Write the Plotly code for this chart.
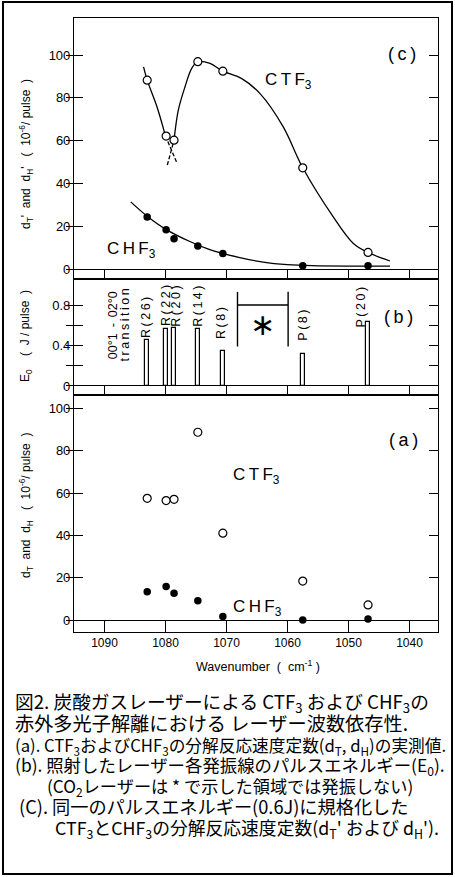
import plotly.graph_objects as go

# ---------------- data ----------------
laser_lines = ["R(26)", "R(22)", "R(20)", "R(14)", "R(8)", "P(8)", "P(20)"]
wavenumber = [1083.0, 1079.9, 1078.6, 1074.7, 1070.6, 1057.5, 1046.8]

# (a) measured decomposition rate constants (10^-6 / pulse)
dT = [57.5, 56.4, 57.0, 88.7, 41.0, 18.4, 7.1]
dH = [13.4, 15.8, 12.6, 9.1, 1.6, 0.0, 0.5]

# (b) pulse energy E0 (J / pulse)
E0 = [0.45, 0.56, 0.577, 0.564, 0.347, 0.314, 0.637]

# (c) normalized rate constants (10^-6 / pulse)
dT_norm = [88.3, 62.2, 60.3, 96.9, 92.5, 47.4, 7.9]
dH_norm = [24.4, 18.5, 14.3, 10.9, 7.4, 1.7, 1.7]

# hand-drawn guide curves in (c)
ctf3_left_x = [1083.6, 1083.0, 1081.4, 1080.0]
ctf3_left_y = [94.5, 88.3, 75.9, 62.2]
ctf3_left_dash_x = [1080.0, 1078.1]
ctf3_left_dash_y = [62.2, 49.5]
ctf3_right_dash_x = [1079.7, 1078.6]
ctf3_right_dash_y = [48.7, 60.3]
ctf3_right_x = [1078.6, 1077.9, 1076.8, 1075.7, 1074.7, 1072.7, 1070.6, 1067.5,
                1064.5, 1060.7, 1057.5, 1052.5, 1049.2, 1046.8, 1043.2]
ctf3_right_y = [60.3, 74.3, 85.2, 93.8, 96.9, 96.1, 92.5, 89.0,
                82.0, 66.5, 47.4, 24.5, 12.1, 7.9, 3.9]
chf3_fit_x = [1085.7, 1083.0, 1080.0, 1076.0, 1072.5, 1068.0, 1064.0, 1060.0,
              1056.0, 1050.0, 1043.2]
chf3_fit_y = [31.5, 24.8, 18.8, 13.0, 9.0, 5.6, 3.4, 2.2, 1.7, 1.5, 1.5]

# region where the CO2 laser does not lase (marked with *)
no_lasing_region = [1068.2, 1059.9]

x_ticks = [1090, 1080, 1070, 1060, 1050, 1040]
y_ticks_rate = [0, 20, 40, 60, 80, 100]
y_ticks_E = [0, 0.2, 0.4, 0.6, 0.8]
y_ticktext_E = ["0", "", "0.4", "", "0.8"]

caption = [
    "図2. 炭酸ガスレーザーによる CTF<sub>3</sub> および CHF<sub>3</sub>の",
    "赤外多光子解離における レーザー波数依存性.",
    "(a). CTF<sub>3</sub>およびCHF<sub>3</sub>の分解反応速度定数(d<sub>T</sub>, d<sub>H</sub>)の実測値.",
    "(b). 照射したレーザー各発振線のパルスエネルギー(E<sub>0</sub>).",
    "(CO<sub>2</sub>レーザーは * で示した領域では発振しない)",
    "(C). 同一のパルスエネルギー(0.6J)に規格化した",
    "CTF<sub>3</sub>とCHF<sub>3</sub>の分解反応速度定数(d<sub>T</sub>' および d<sub>H</sub>').",
]

# ---------------- layout geometry ----------------
W, H = 455, 877
ML, MR, MT, MB = 74, 17, 18, 245
PW = W - ML - MR
PH = H - MT - MB


def px(xp):
    return (xp - ML) / PW


def py(yp):
    return (H - MB - yp) / PH


def spaced(s):
    return "\u2009".join(s)


FONT = "Liberation Sans, Arial, Helvetica, sans-serif"
JFONT = "Noto Sans CJK JP, sans-serif"
XR = [1095.0, 1035.33]
RANGE_C = [-4.5, 117.3]
RANGE_B = [-0.089, 1.057]
RANGE_A = [-5.67, 106.3]
DOM_A = [0, py(395)]
DOM_B = [py(395), py(279)]
DOM_C = [py(279), 1]
LW = 1.1

fig = go.Figure()

# ---- panel (c) ----
curve_style = dict(color="black", width=1.3)
fig.add_trace(go.Scatter(x=ctf3_left_x, y=ctf3_left_y, mode="lines",
                         line=dict(shape="spline", **curve_style),
                         xaxis="x3", yaxis="y3", showlegend=False))
fig.add_trace(go.Scatter(x=ctf3_left_dash_x, y=ctf3_left_dash_y, mode="lines",
                         line=dict(dash="4px,2px", **curve_style),
                         xaxis="x3", yaxis="y3", showlegend=False))
fig.add_trace(go.Scatter(x=ctf3_right_dash_x, y=ctf3_right_dash_y, mode="lines",
                         line=dict(dash="4px,2px", **curve_style),
                         xaxis="x3", yaxis="y3", showlegend=False))
fig.add_trace(go.Scatter(x=ctf3_right_x, y=ctf3_right_y, mode="lines",
                         line=dict(shape="spline", **curve_style),
                         xaxis="x3", yaxis="y3", showlegend=False))
fig.add_trace(go.Scatter(x=chf3_fit_x, y=chf3_fit_y, mode="lines",
                         line=dict(shape="spline", **curve_style),
                         xaxis="x3", yaxis="y3", showlegend=False))
open_marker = dict(symbol="circle", size=8, color="white",
                   line=dict(color="black", width=1.2))
filled_marker = dict(symbol="circle", size=7.5, color="black",
                     line=dict(color="black", width=0))
fig.add_trace(go.Scatter(x=wavenumber, y=dT_norm, mode="markers", marker=open_marker,
                         xaxis="x3", yaxis="y3", showlegend=False))
fig.add_trace(go.Scatter(x=wavenumber, y=dH_norm, mode="markers", marker=filled_marker,
                         xaxis="x3", yaxis="y3", showlegend=False))

# ---- panel (b) ----
fig.add_trace(go.Bar(x=wavenumber, y=E0, width=0.6, base=0,
                     marker=dict(color="white", line=dict(color="black", width=1.2)),
                     xaxis="x2", yaxis="y2", showlegend=False))

# ---- panel (a) ----
fig.add_trace(go.Scatter(x=wavenumber, y=dT, mode="markers", marker=open_marker,
                         xaxis="x", yaxis="y", showlegend=False))
fig.add_trace(go.Scatter(x=wavenumber, y=dH, mode="markers", marker=filled_marker,
                         xaxis="x", yaxis="y", showlegend=False))

# empty traces to bind overlay axes (outer half of the left ticks)
for ya, xa in [("y4", "x"), ("y5", "x2"), ("y6", "x3")]:
    fig.add_trace(go.Scatter(x=[], y=[], xaxis=xa, yaxis=ya, showlegend=False))

tickfont = dict(family=FONT, size=13, color="black")


def xaxis(anchor, ticklen, labels):
    return dict(anchor=anchor, range=XR, domain=[0, 1], tickvals=x_ticks,
                ticks="inside", ticklen=ticklen, tickwidth=1.3, tickcolor="black",
                showticklabels=labels, tickfont=dict(family=FONT, size=12, color="black"),
                showline=True, linecolor="black", linewidth=LW, mirror=True,
                showgrid=False, zeroline=False)


def yaxis(anchor, dom, rng, vals, text=None):
    d = dict(anchor=anchor, domain=dom, range=rng, tickvals=vals,
             ticks="inside", ticklen=9, tickwidth=1.3, tickcolor="black",
             tickfont=tickfont, showline=True, linecolor="black", linewidth=LW,
             mirror="ticks", showgrid=False, zeroline=True, zerolinecolor="black",
             zerolinewidth=1.3)
    if text is not None:
        d["ticktext"] = text
    return d


def yover(anchor, over, rng, vals):
    return dict(anchor=anchor, overlaying=over, side="left", range=rng, tickvals=vals,
                ticks="outside", ticklen=7, tickwidth=1.3, tickcolor="black",
                showticklabels=False, showline=False, showgrid=False, zeroline=False)


fig.update_layout(
    width=W, height=H,
    margin=dict(l=ML, r=MR, t=MT, b=MB, pad=0),
    paper_bgcolor="white", plot_bgcolor="white",
    showlegend=False, bargap=0,
    xaxis=xaxis("y", 12, True),
    xaxis2=xaxis("y2", 9, False),
    xaxis3=xaxis("y3", 10, False),
    yaxis=yaxis("x", DOM_A, RANGE_A, y_ticks_rate),
    yaxis2=yaxis("x2", DOM_B, RANGE_B, y_ticks_E, y_ticktext_E),
    yaxis3=yaxis("x3", DOM_C, RANGE_C, y_ticks_rate),
    yaxis4=yover("x", "y", RANGE_A, y_ticks_rate),
    yaxis5=yover("x2", "y2", RANGE_B, y_ticks_E),
    yaxis6=yover("x3", "y3", RANGE_C, y_ticks_rate),
)

ann = []


def text(xp, yp, t, size=13, angle=0, family=FONT, xanchor="center", yanchor="middle"):
    ann.append(dict(x=px(xp), y=py(yp), xref="paper", yref="paper", text=t,
                    showarrow=False, textangle=angle, xanchor=xanchor, yanchor=yanchor,
                    font=dict(family=family, size=size, color="black")))


# panel tags
text(402, 54, "(\u2009c\u2009)", 18)
text(398, 317, "(\u2009b\u2009)", 18)
text(403, 440, "(\u2009a\u2009)", 18)

# species labels
text(288, 81, "C\u2009T\u2009F<sub>3</sub>", 17)
text(131, 250, "C\u2009H\u2009F<sub>3</sub>", 17)
text(256, 476, "C\u2009T\u2009F<sub>3</sub>", 17)
text(257, 608, "C\u2009H\u2009F<sub>3</sub>", 17)

# laser line labels (rotated)
line_label_pos = [(146, 318), (166, 306), (175.7, 306), (197.3, 306.5),
                  (221, 323), (302.7, 325), (360, 307.5)]
for lbl, (xp, yp) in zip(laser_lines, line_label_pos):
    text(xp, yp, spaced(lbl), 12.5, angle=-90)
text(112.7, 325.5, "00°1\u2009 - \u200902°0", 12.5, angle=-90)
text(124.0, 325.5, spaced("transition"), 12.5, angle=-90)

# asterisk
text(262.7, 324, "\u2217", 30, family="DejaVu Sans")

# axis titles
text(26, 154, "d<sub>T</sub>'  and  d<sub>H</sub>'   (  10<sup>-6</sup>/ pulse  )", 12, angle=-90)
text(26, 336, "E<sub>0</sub>    (  J / pulse  )", 12, angle=-90)
text(26, 506, "d<sub>T</sub>  and  d<sub>H</sub>   (  10<sup>-6</sup>/ pulse  )", 12, angle=-90)
text(258, 666, "Wavenumber  (  cm<sup>-1</sup> )", 12.5)

# caption
cap_pos = [(13, 702, 18.7), (13, 723, 19.2), (13, 746, 16.7), (13, 766, 17.4),
           (45, 786, 17.2), (17, 806, 18.2), (53, 828, 17.8)]
for t, (xp, yp, s) in zip(caption, cap_pos):
    text(xp, yp, t, s, family=JFONT, xanchor="left")

fig.update_layout(annotations=ann)

# bracket marking the non-lasing region in (b)
shapes = []
for xv in no_lasing_region:
    shapes.append(dict(type="line", xref="x2", yref="y2", x0=xv, x1=xv, y0=0.39, y1=0.93,
                       line=dict(color="black", width=1.4)))
shapes.append(dict(type="line", xref="x2", yref="y2", x0=no_lasing_region[0],
                   x1=no_lasing_region[1], y0=0.80, y1=0.80,
                   line=dict(color="black", width=1.4)))
# outer frame around figure + caption
shapes.append(dict(type="rect", xref="paper", yref="paper", x0=px(3), x1=px(452),
                   y0=py(874), y1=py(2), line=dict(color="black", width=2)))
fig.update_layout(shapes=shapes)

fig.write_html("out.html")
